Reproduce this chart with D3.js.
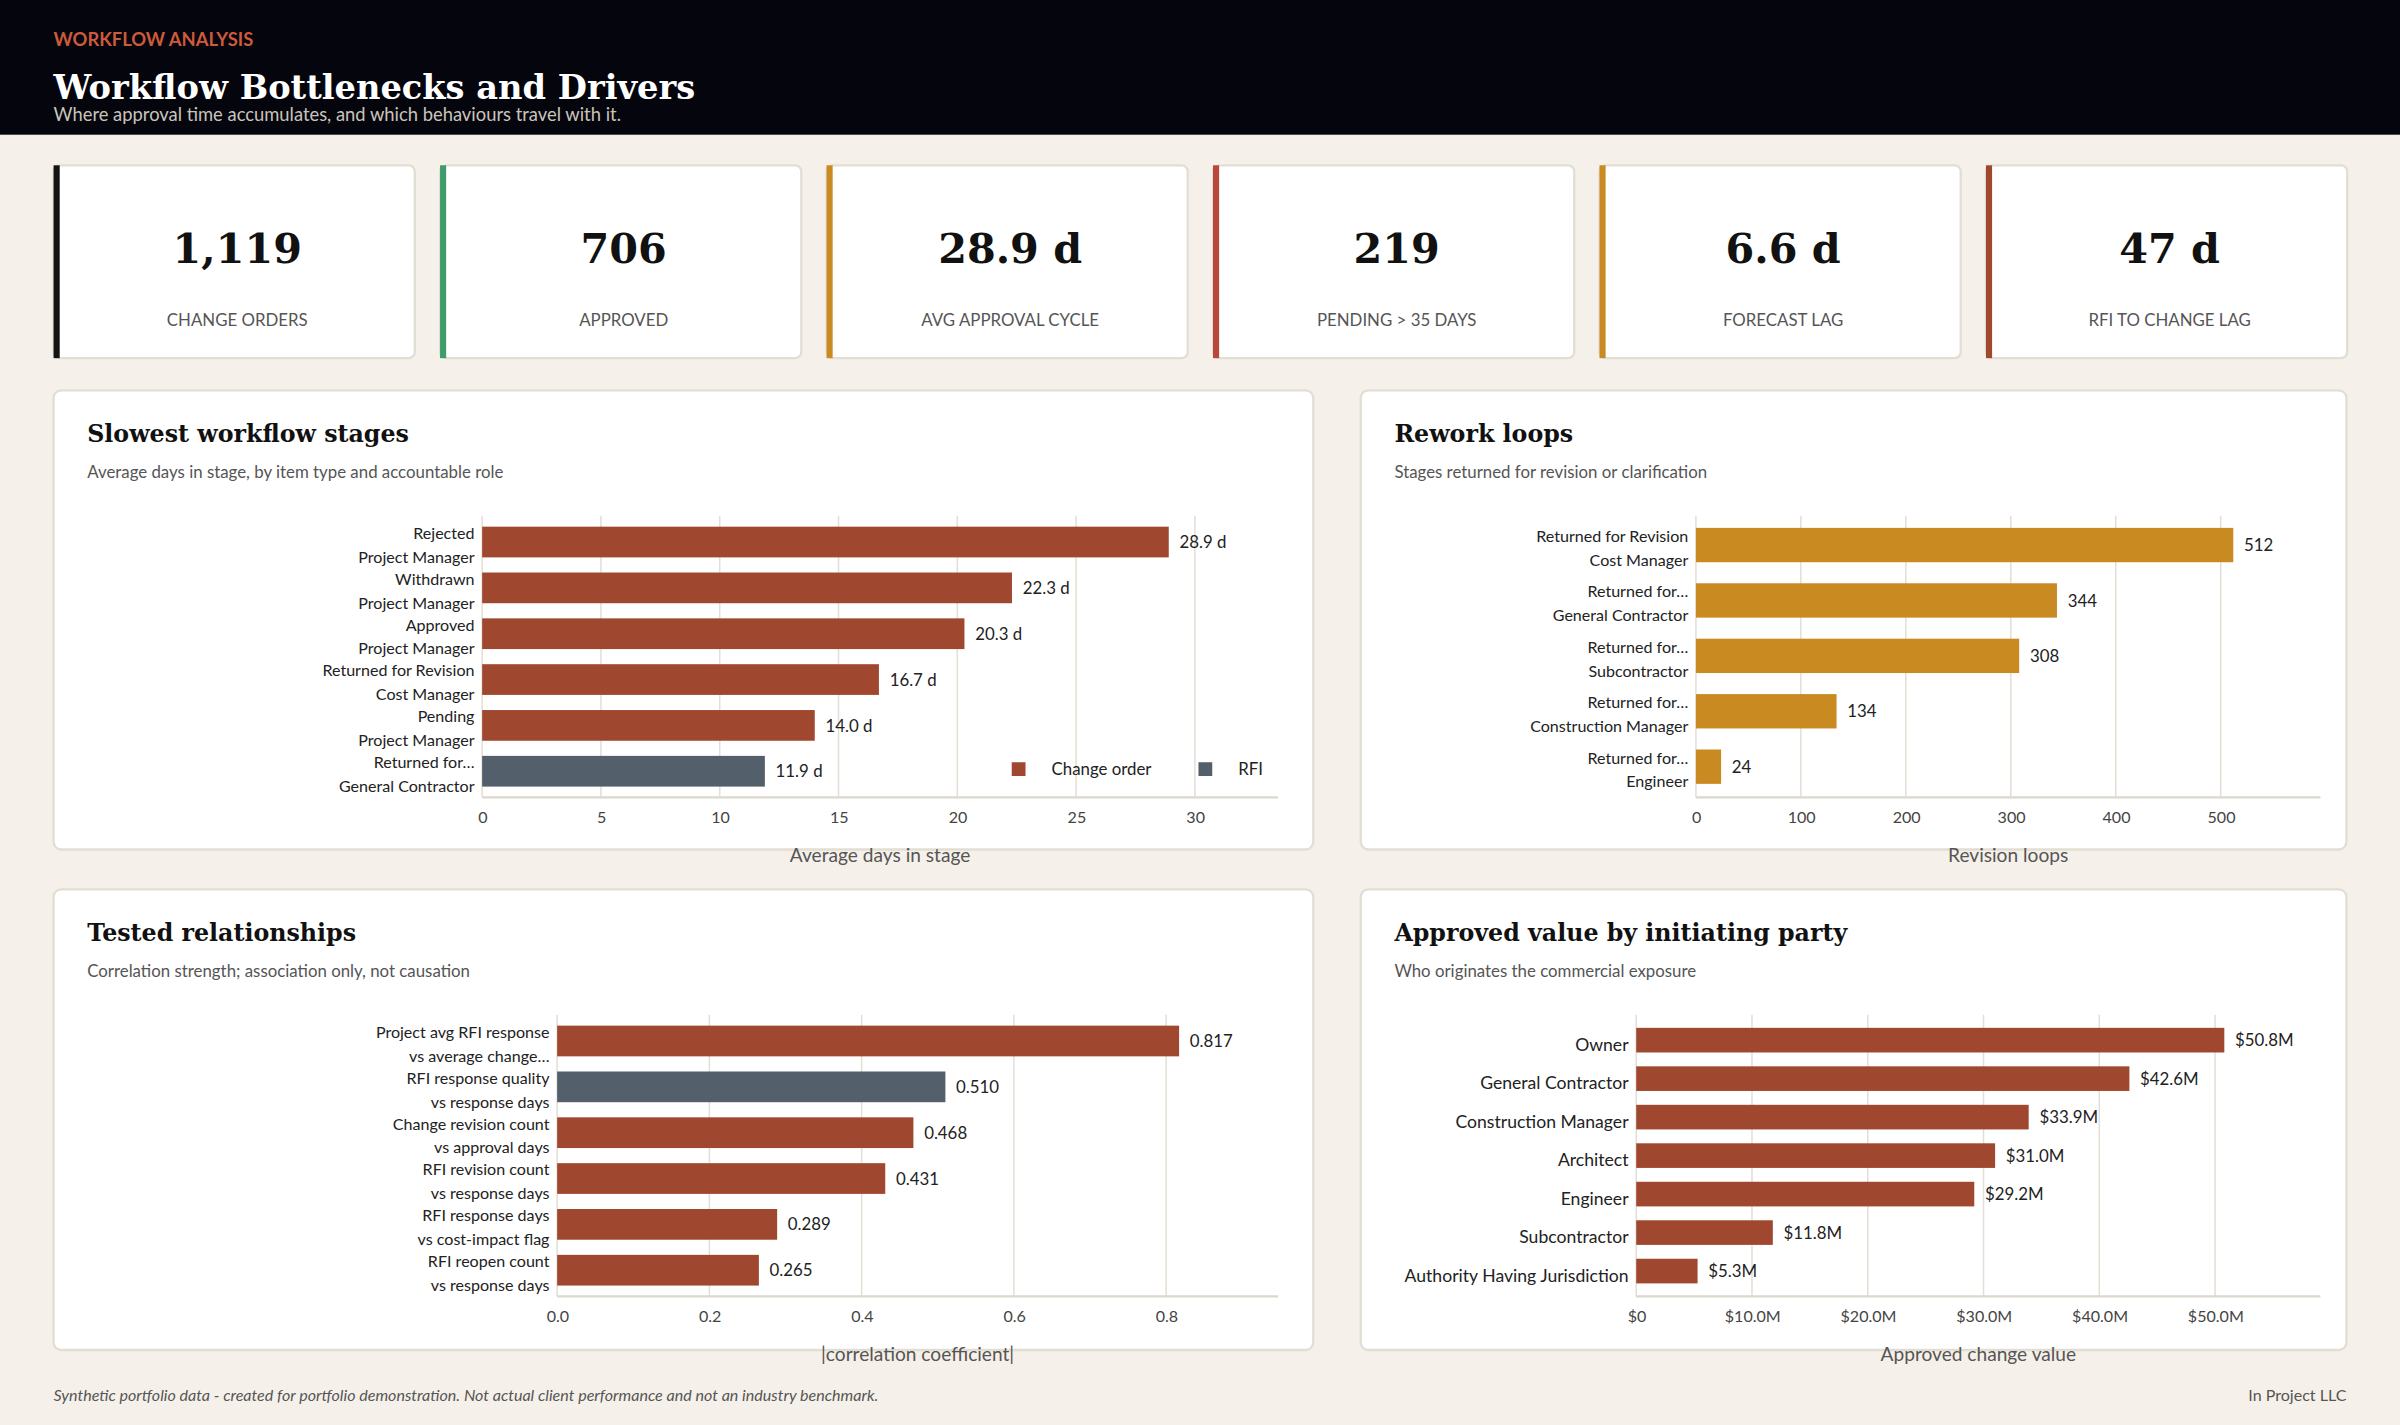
<!DOCTYPE html>
<html><head><meta charset="utf-8">
<script src="https://cdn.jsdelivr.net/npm/d3@7"></script>
<style>
html,body{margin:0;padding:0;background:#f5f1ea;}
svg{display:block;}
</style></head>
<body>
<svg id="c" width="2400" height="1425" viewBox="0 0 1568 931"></svg>
<script>
// ---- DATA ----
const kpiValues = ["1,119","706","28.9 d","219","6.6 d","47 d"];
const kpiLabels = ["CHANGE ORDERS","APPROVED","AVG APPROVAL CYCLE","PENDING > 35 DAYS","FORECAST LAG","RFI TO CHANGE LAG"];
const kpiColors = ["#141414","#3e9b6b","#c98a22","#b8493a","#c98a22","#a0482f"];

const stageLine1 = ["Rejected","Withdrawn","Approved","Returned for Revision","Pending","Returned for\u2026"];
const stageLine2 = ["Project Manager","Project Manager","Project Manager","Cost Manager","Project Manager","General Contractor"];
const stageDays = [28.9,22.3,20.3,16.7,14.0,11.9];
const stageType = ["Change order","Change order","Change order","Change order","Change order","RFI"];
const stageTicks = [0,5,10,15,20,25,30];

const reworkLine1 = ["Returned for Revision","Returned for\u2026","Returned for\u2026","Returned for\u2026","Returned for\u2026"];
const reworkLine2 = ["Cost Manager","General Contractor","Subcontractor","Construction Manager","Engineer"];
const reworkLoops = [512,344,308,134,24];
const reworkTicks = [0,100,200,300,400,500];

const relLine1 = ["Project avg RFI response","RFI response quality","Change revision count","RFI revision count","RFI response days","RFI reopen count"];
const relLine2 = ["vs average change\u2026","vs response days","vs approval days","vs response days","vs cost-impact flag","vs response days"];
const relCoef = [0.817,0.510,0.468,0.431,0.289,0.265];
const relType = ["Change order","RFI","Change order","Change order","Change order","Change order"];
const relTicks = [0,0.2,0.4,0.6,0.8];

const partyNames = ["Owner","General Contractor","Construction Manager","Architect","Engineer","Subcontractor","Authority Having Jurisdiction"];
const partyValue = [50.8,42.6,33.9,31.0,29.2,11.8,5.3];
const partyTicks = [0,10,20,30,40,50];

// ---- STYLE ----
const SANS = "'Source Sans Pro','Lato','Noto Sans',sans-serif";
const SERIF = "'Roboto Slab','DejaVu Serif',serif";
const RUST = "#a0482f", SLATE = "#535f6b", GOLD = "#c98a22";
const typeColor = t => t === "RFI" ? SLATE : RUST;

const svg = d3.select("#c");
svg.append("rect").attr("width",1568).attr("height",931).attr("fill","#f5f1ea");
// header
svg.append("rect").attr("width",1568).attr("height",88).attr("fill","#05050d");
svg.append("text").attr("x",35).attr("y",30).text("WORKFLOW ANALYSIS")
  .attr("fill","#cc5a3c").attr("font-family",SANS).attr("font-weight",700).attr("font-size",12);
svg.append("text").attr("x",35).attr("y",65).text("Workflow Bottlenecks and Drivers")
  .attr("fill","#fff").attr("font-family",SERIF).attr("font-weight",700).attr("font-size",22);
svg.append("text").attr("x",35).attr("y",79).text("Where approval time accumulates, and which behaviours travel with it.")
  .attr("fill","#c9c4bb").attr("font-family",SANS).attr("font-size",12);

// KPI cards
kpiValues.forEach((v,i)=>{
  const x = 35 + i*252.5, y = 108, w = 236, h = 126;
  const g = svg.append("g");
  g.append("rect").attr("x",x).attr("y",y).attr("width",w).attr("height",h).attr("rx",4)
    .attr("fill","#fff").attr("stroke","#e3ded4").attr("stroke-width",1.5);
  g.append("rect").attr("x",x).attr("y",y).attr("width",4).attr("height",h).attr("fill",kpiColors[i]);
  g.append("text").attr("x",x+w/2+2).attr("y",172).attr("text-anchor","middle").text(v)
    .attr("font-family",SERIF).attr("font-weight",700).attr("font-size",27).attr("fill","#111");
  g.append("text").attr("x",x+w/2+2).attr("y",213).attr("text-anchor","middle").text(kpiLabels[i])
    .attr("font-family",SANS).attr("font-size",11).attr("fill","#555");
});

function panel(x,y,w,h,title,sub){
  svg.append("rect").attr("x",x).attr("y",y).attr("width",w).attr("height",h).attr("rx",5)
    .attr("fill","#fff").attr("stroke","#e3ded4").attr("stroke-width",1.5);
  svg.append("text").attr("x",x+22).attr("y",y+34).text(title)
    .attr("font-family",SERIF).attr("font-weight",700).attr("font-size",15.5).attr("fill","#111");
  svg.append("text").attr("x",x+22).attr("y",y+57).text(sub)
    .attr("font-family",SANS).attr("font-size",11).attr("fill","#555");
}

function barChart(o){
  const x = d3.scaleLinear().domain([0,o.max]).range([o.x0,o.x1]);
  const n = o.values.length;
  const y = d3.scaleBand().domain(d3.range(n)).range([o.yTop,o.yBot]).paddingInner(o.pad).paddingOuter(o.padOuter);
  const g = svg.append("g");
  // grid
  g.selectAll(".gl").data(o.ticks).join("line")
    .attr("x1",d=>x(d)).attr("x2",d=>x(d)).attr("y1",o.gridTop).attr("y2",o.axisY)
    .attr("stroke","#e4dfd6").attr("stroke-width",1);
  g.append("line").attr("x1",o.x0).attr("x2",o.x1).attr("y1",o.axisY).attr("y2",o.axisY)
    .attr("stroke","#dcd7cd").attr("stroke-width",1.5);
  const ax = d3.axisBottom(x).tickValues(o.ticks).tickFormat(o.tickFmt).tickSize(0).tickPadding(9);
  const axg = g.append("g").attr("transform",`translate(0,${o.axisY})`).call(ax);
  axg.select(".domain").remove();
  axg.selectAll("text").attr("font-family",SANS).attr("font-size",10.5).attr("fill","#444");
  // bars
  g.selectAll(".b").data(o.values).join("rect")
    .attr("x",o.x0).attr("y",(d,i)=>y(i)).attr("width",d=>x(d)-o.x0).attr("height",y.bandwidth())
    .attr("fill",(d,i)=>o.color(i));
  g.selectAll(".v").data(o.values).join("text")
    .attr("x",d=>x(d)+7).attr("y",(d,i)=>y(i)+y.bandwidth()/2+4).text(o.valFmt)
    .attr("font-family",SANS).attr("font-size",11).attr("fill","#222");
  // labels
  o.values.forEach((d,i)=>{
    const cy = y(i)+y.bandwidth()/2;
    const t = g.append("text").attr("text-anchor","end").attr("font-family",SANS)
      .attr("font-size",o.labelSize||10.5).attr("fill","#222");
    if(o.line2){
      t.append("tspan").attr("x",o.x0-5).attr("y",cy-2).text(o.line1[i]);
      t.append("tspan").attr("x",o.x0-5).attr("y",cy+13.5).text(o.line2[i]);
    } else {
      t.attr("x",o.x0-5).attr("y",cy+7).text(o.line1[i]);
    }
  });
  svg.append("text").attr("x",(o.x0+o.x1)/2).attr("y",o.axisY+42).attr("text-anchor","middle")
    .text(o.axisTitle).attr("font-family",SANS).attr("font-size",12.5).attr("fill","#555");
}

panel(35,255,823,300,"Slowest workflow stages","Average days in stage, by item type and accountable role");
panel(889,255,644,300,"Rework loops","Stages returned for revision or clarification");
panel(35,581,823,301,"Tested relationships","Correlation strength; association only, not causation");
panel(889,581,644,301,"Approved value by initiating party","Who originates the commercial exposure");

barChart({values:stageDays,line1:stageLine1,line2:stageLine2,max:33.5,ticks:stageTicks,x0:315,x1:835,
  yTop:339,yBot:519,pad:0.33,padOuter:0.17,gridTop:337,axisY:521,color:i=>typeColor(stageType[i]),
  tickFmt:d3.format("d"),valFmt:d=>d.toFixed(1)+" d",axisTitle:"Average days in stage"});
// legend
[["Change order",RUST,661],["RFI",SLATE,783]].forEach(([l,c,lx])=>{
  svg.append("rect").attr("x",lx).attr("y",498).attr("width",9).attr("height",9).attr("fill",c);
  svg.append("text").attr("x",lx+(l==="RFI"?26:26)).attr("y",506.5).text(l)
    .attr("font-family",SANS).attr("font-size",11).attr("fill","#222");
});

barChart({values:reworkLoops,line1:reworkLine1,line2:reworkLine2,max:595,ticks:reworkTicks,x0:1108,x1:1516,
  yTop:338,yBot:519,pad:0.38,padOuter:0.19,gridTop:337,axisY:521,color:()=>GOLD,
  tickFmt:d3.format("d"),valFmt:d=>d,axisTitle:"Revision loops"});

barChart({values:relCoef,line1:relLine1,line2:relLine2,max:0.947,ticks:relTicks,x0:364,x1:835,
  yTop:665,yBot:845,pad:0.33,padOuter:0.17,gridTop:663,axisY:847,color:i=>typeColor(relType[i]),
  tickFmt:d3.format(".1f"),valFmt:d=>d.toFixed(3),axisTitle:"|correlation coefficient|"});

barChart({values:partyValue,line1:partyNames,max:59.1,ticks:partyTicks,x0:1069,x1:1516,
  yTop:667,yBot:843,pad:0.36,padOuter:0.18,gridTop:663,axisY:847,color:()=>RUST,labelSize:11.5,
  tickFmt:d=>d===0?"$0":"$"+d.toFixed(1)+"M",valFmt:d=>"$"+d.toFixed(1)+"M",axisTitle:"Approved change value"});

// footer
svg.append("text").attr("x",35).attr("y",915).text("Synthetic portfolio data - created for portfolio demonstration. Not actual client performance and not an industry benchmark.")
  .attr("font-family",SANS).attr("font-style","italic").attr("font-size",10.5).attr("fill","#555");
svg.append("text").attr("x",1533).attr("y",915).attr("text-anchor","end").text("In Project LLC")
  .attr("font-family",SANS).attr("font-size",10.5).attr("fill","#555");
</script>
</body></html>
